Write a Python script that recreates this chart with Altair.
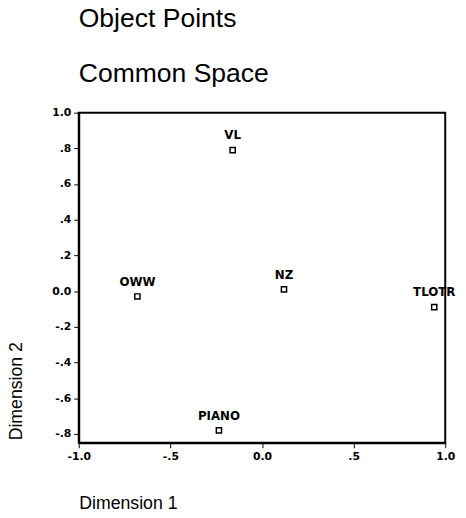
import altair as alt
import pandas as pd

labels = ["VL", "OWW", "NZ", "TLOTR", "PIANO"]
dim1 = [-0.16, -0.68, 0.12, 0.94, -0.235]
dim2 = [0.79, -0.03, 0.01, -0.09, -0.78]

x_ticks = [-1.0, -0.5, 0.0, 0.5, 1.0]
y_ticks = [-0.8, -0.6, -0.4, -0.2, 0.0, 0.2, 0.4, 0.6, 0.8, 1.0]

df = pd.DataFrame({"label": labels, "d1": dim1, "d2": dim2})

fmt = ("datum.value == 0 ? '0.0' : (datum.value < 0 ? '-' : '') + "
       "(abs(datum.value) >= 1 ? '1.0' : '.' + round(abs(datum.value) * 10))")

tick_font = "DejaVu Sans"
title_font = "Liberation Sans"

x_enc = alt.X(
    "d1:Q",
    scale=alt.Scale(domain=[-1.0, 1.0], nice=False, zero=False),
    axis=alt.Axis(
        values=x_ticks, labelExpr=fmt, grid=False,
        title="Dimension 1", titleAnchor="start", titleAlign="left",
        titleX=0, titleY=67, titleBaseline="alphabetic",
        titleFont=title_font, titleFontSize=18, titleFontWeight="normal",
        titleColor="black",
        labelFont=tick_font, labelFontSize=11, labelFontWeight="bold",
        labelColor="black", labelPadding=3, tickSize=5, tickColor="black",
        domainColor="black", domainWidth=2, labelFlush=False,
    ),
)
y_enc = alt.Y(
    "d2:Q",
    scale=alt.Scale(domain=[-0.85, 1.0], nice=False, zero=False),
    axis=alt.Axis(
        values=y_ticks, labelExpr=fmt, grid=False,
        title="Dimension 2", titleAngle=270, titleAlign="left",
        titleX=-58, titleY=333, titleBaseline="alphabetic",
        titleFont=title_font, titleFontSize=18, titleFontWeight="normal",
        titleColor="black",
        labelFont=tick_font, labelFontSize=11, labelFontWeight="bold",
        labelColor="black", labelPadding=3, tickSize=5, tickColor="black",
        domainColor="black", domainWidth=2, labelFlush=False,
    ),
)

base = alt.Chart(df).encode(x=x_enc, y=y_enc)

pts = base.mark_point(shape="square", filled=False, size=28, strokeWidth=1.5,
                      color="black", opacity=1)
txt = base.mark_text(font=tick_font, fontSize=12, fontWeight="bold",
                     baseline="alphabetic", dy=-11, color="black").encode(text="label:N")

chart = (pts + txt).properties(
    width=373, height=336,
    background="white",
    autosize=alt.AutoSizeParams(type="none"),
    padding={"left": 72, "top": 102, "right": 13, "bottom": 72},
    title=alt.TitleParams(
        text=["Object Points", "Common Space"], anchor="start", frame="group",
        font=title_font, fontSize=27, fontWeight="normal", color="black",
        lineHeight=56, offset=19,
    ),
).configure_view(stroke="black", strokeWidth=2, strokeOpacity=1)

chart.save("out.html", embed_options={"renderer": "svg", "actions": False})
